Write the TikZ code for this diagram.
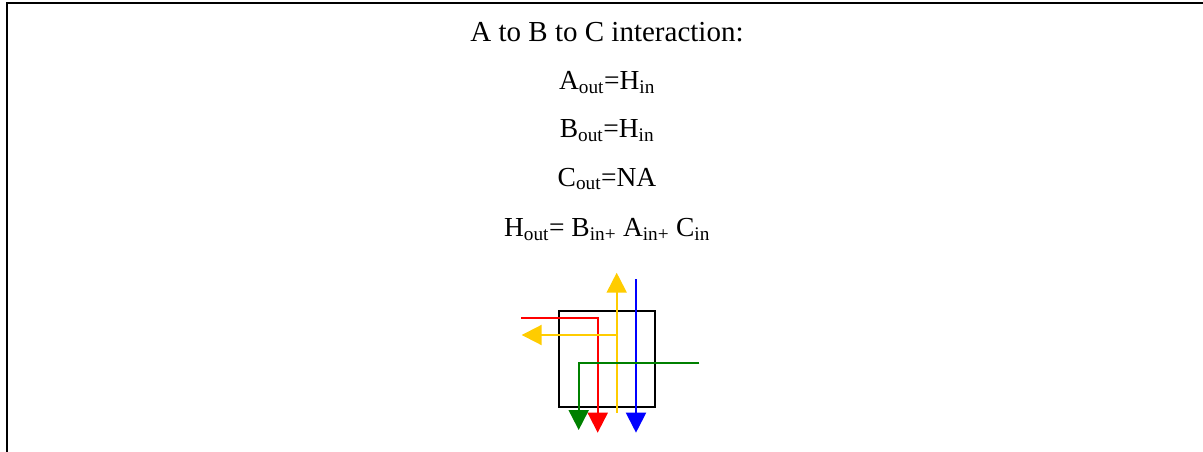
\documentclass[tikz,border=0pt]{standalone}
\usepackage{fontspec}
\setmainfont{Liberation Serif}
\usepackage{xcolor}
\usepackage{tikz}
\usetikzlibrary{arrows.meta}

\definecolor{sigred}{RGB}{255,0,0}
\definecolor{sigyel}{RGB}{255,204,0}
\definecolor{siggrn}{RGB}{0,128,0}
\definecolor{sigblu}{RGB}{0,0,255}

\begin{document}
\begin{tikzpicture}[
    x=1pt, y=-1pt,
    txt/.style={anchor=base, inner sep=0pt, font=\fontsize{27.5}{33}\selectfont},
    blk/.style={rectangle, draw, line width=2pt, minimum width=96pt, minimum height=96pt, inner sep=0pt},
    sig/.style={line width=2pt, -{Triangle[length=20pt, width=20pt]}},
    wire/.style={line width=2pt}
]
\useasboundingbox (0,0) rectangle (1203,452);
% frame
\draw[line width=2pt] (6.5,452) -- (6.5,3) -- (1203,3);

% equations
\node[txt, font=\fontsize{29}{34}\selectfont] (title) at (607,41.7) {A to B to C interaction:};
\node[txt] (eqA) at (607,89.3) {A\textsubscript{out}=H\textsubscript{in}};
\node[txt] (eqB) at (607,137.7) {B\textsubscript{out}=H\textsubscript{in}};
\node[txt] (eqC) at (607,186) {C\textsubscript{out}=NA};
\node[txt] (eqH) at (607,236.7) {H\textsubscript{out}= B\textsubscript{in+} A\textsubscript{in+} C\textsubscript{in}};

% block
\node[blk] (hub) at (607,359) {};

\coordinate (redin) at (521,318);
\coordinate (redout) at (597.7,432.7);
\coordinate (yelbot) at (616.7,412.7);
\coordinate (yeltop) at (616.7,272.7);
\coordinate (yeljoin) at (616.7,335);
\coordinate (yelout) at (521.7,335);
\coordinate (bluin) at (636,279.3);
\coordinate (bluout) at (636,432.7);
\coordinate (grnin) at (699.3,362.7);
\coordinate (grnout) at (578.7,430);

\draw[sig, sigred] (redin) -| (redout);
\draw[sig, sigyel] (yelbot) -- (yeltop);
\draw[sig, sigyel] (yeljoin) -- (yelout);
\draw[sig, sigblu] (bluin) -- (bluout);
\draw[sig, siggrn] (grnin) -| (grnout);
\end{tikzpicture}
\end{document}
